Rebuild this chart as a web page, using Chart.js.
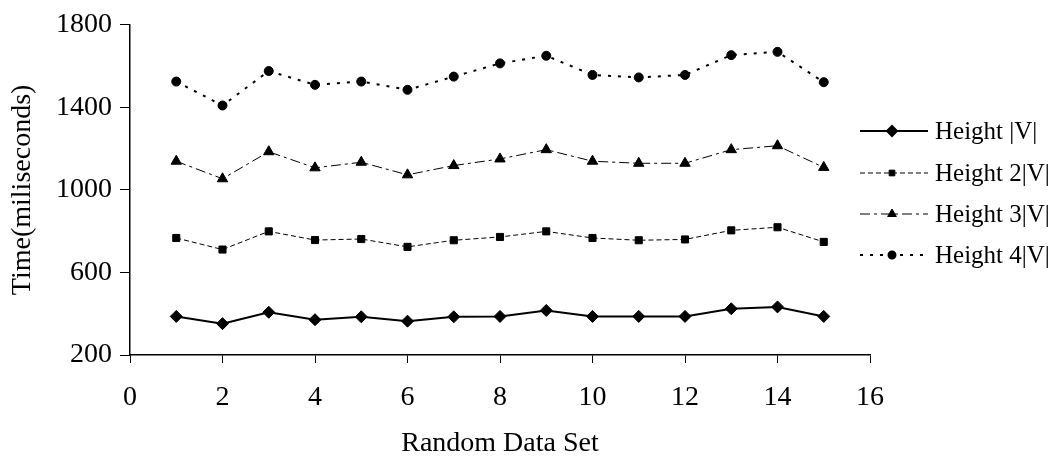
<!DOCTYPE html>
<html>
<head>
<meta charset="utf-8">
<script src="https://cdn.jsdelivr.net/npm/chart.js@4"></script>
<style>
  html, body { margin: 0; padding: 0; background: #fff; }
  #wrap { width: 1060px; height: 464px; }
</style>
</head>
<body>
<div id="wrap"><canvas id="grafico" width="1060" height="464"></canvas></div>
<script>
// ---------------------------------------------------------
// Datos
// ---------------------------------------------------------
const dataSets = [1, 2, 3, 4, 5, 6, 7, 8, 9, 10, 11, 12, 13, 14, 15];
const heightV  = [387, 352, 407, 371, 385, 364, 385, 387, 416, 387, 387, 387, 424, 433, 387];
const height2V = [767, 711, 799, 757, 762, 724, 756, 772, 799, 767, 756, 760, 804, 819, 748];
const height3V = [1139, 1054, 1185, 1107, 1134, 1073, 1118, 1150, 1195, 1139, 1129, 1129, 1195, 1214, 1109];
const height4V = [1525, 1409, 1576, 1509, 1525, 1485, 1549, 1613, 1650, 1557, 1545, 1557, 1653, 1669, 1522];
const seriesNames = ['Height |V|', 'Height 2|V|', 'Height 3|V|', 'Height 4|V|'];
const xTicks = [0, 2, 4, 6, 8, 10, 12, 14, 16];
const yTicks = [200, 600, 1000, 1400, 1800];

const negro = '#000';
const fuente = 'Liberation Serif, Times New Roman, serif';

const toPoints = vals => vals.map((v, i) => ({ x: dataSets[i], y: v }));

// estilo de cada serie
const estilos = [
  { dash: [], width: 2, point: 'rectRot', radius: 6 },
  { dash: [5, 3], width: 1, point: 'rect', radius: 5 },
  { dash: [10, 4, 3, 4], width: 1, point: 'triangle', radius: 6 },
  { dash: [3, 7], width: 2, point: 'circle', radius: 4.5 }
];

const datasets = [heightV, height2V, height3V, height4V].map((vals, i) => ({
  label: seriesNames[i],
  data: toPoints(vals),
  borderColor: negro,
  backgroundColor: negro,
  borderWidth: estilos[i].width,
  borderDash: estilos[i].dash,
  pointStyle: estilos[i].point,
  pointRadius: estilos[i].radius,
  pointBorderWidth: 1,
  tension: 0
}));

// Leyenda dibujada a mano (linea + marcador + texto)
const leyendaPlugin = {
  id: 'leyenda',
  afterDraw(chart) {
    const ctx = chart.ctx;
    const filas = [131, 173, 214, 255];
    chart.data.datasets.forEach((ds, i) => {
      const y = filas[i];
      ctx.save();
      ctx.strokeStyle = negro;
      ctx.lineWidth = ds.borderWidth;
      ctx.setLineDash(ds.borderDash);
      ctx.beginPath();
      ctx.moveTo(860, y);
      ctx.lineTo(928, y);
      ctx.stroke();
      ctx.setLineDash([]);
      Chart.helpers.drawPoint(ctx, {
        pointStyle: ds.pointStyle, radius: ds.pointRadius - 1, borderWidth: 1
      }, 892, y);
      ctx.fillStyle = negro;
      ctx.font = '25px ' + fuente;
      ctx.textBaseline = 'middle';
      ctx.textAlign = 'left';
      ctx.fillText(ds.label, 935, y + 1);
      ctx.restore();
    });
  }
};

new Chart(document.getElementById('grafico'), {
  type: 'line',
  data: { datasets },
  plugins: [leyendaPlugin],
  options: {
    responsive: false,
    animation: false,
    layout: { padding: { top: 20, right: 190, left: 0, bottom: 0 } },
    plugins: { legend: { display: false }, tooltip: { enabled: false } },
    scales: {
      x: {
        type: 'linear', min: 0, max: 16,
        afterFit: s => { s.height = 109; },
        afterBuildTicks: s => { s.ticks = xTicks.map(v => ({ value: v })); },
        ticks: { color: negro, font: { family: fuente, size: 28 }, padding: 18, maxRotation: 0, callback: v => String(v) },
        grid: { display: true, drawOnChartArea: false, drawTicks: true, tickLength: 8, color: negro, lineWidth: 1 },
        border: { display: true, color: negro, width: 1.5 },
        title: { display: true, text: 'Random Data Set', color: negro, font: { family: fuente, size: 28 }, padding: { top: 5 } }
      },
      y: {
        type: 'linear', min: 200, max: 1800,
        afterFit: s => { s.width = 130; },
        afterBuildTicks: s => { s.ticks = yTicks.map(v => ({ value: v })); },
        ticks: { color: negro, font: { family: fuente, size: 28 }, padding: 8, callback: v => String(v) },
        grid: { display: true, drawOnChartArea: false, drawTicks: true, tickLength: 10, color: negro, lineWidth: 1 },
        border: { display: true, color: negro, width: 1.5 },
        title: { display: true, text: 'Time(miliseconds)', color: negro, font: { family: fuente, size: 28 }, padding: { top: 6 } }
      }
    }
  }
});
</script>
</body>
</html>
